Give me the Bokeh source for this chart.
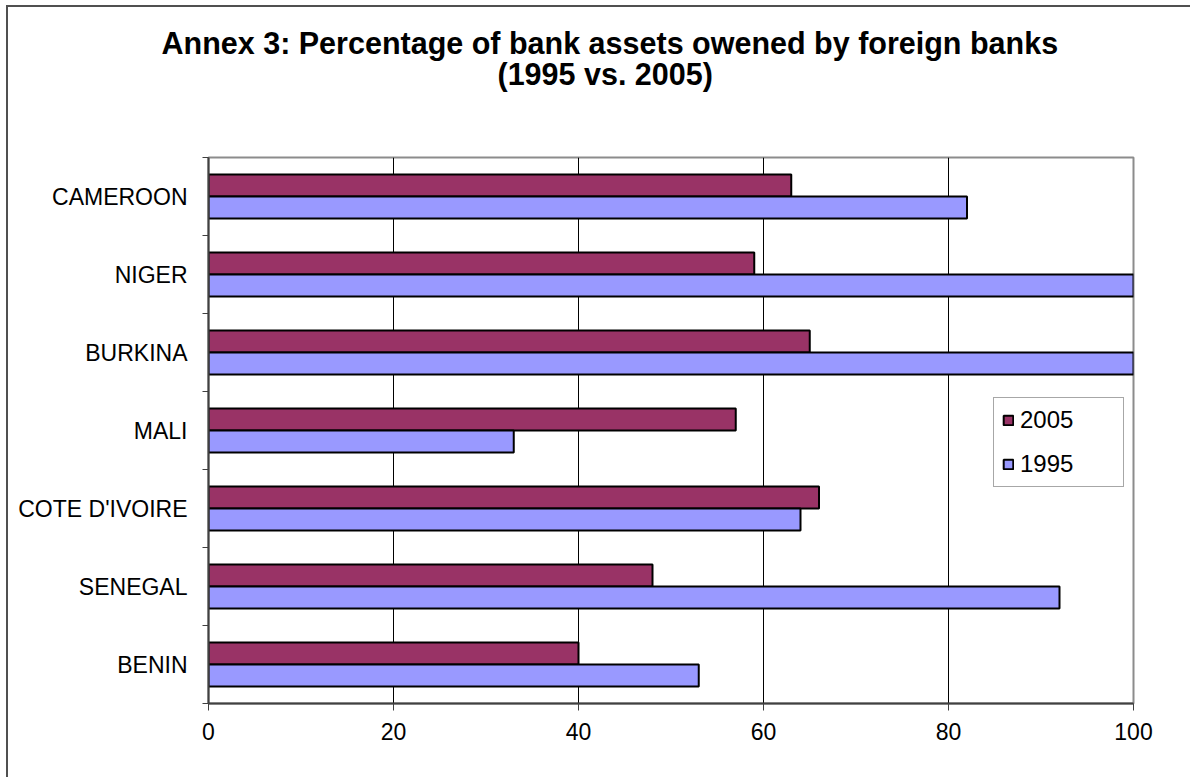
from bokeh.plotting import figure
from bokeh.models import ColumnDataSource, FixedTicker, Legend, LegendItem, Title
from bokeh.transform import dodge
from bokeh.embed import file_html
from bokeh.resources import INLINE

countries = ["BENIN", "SENEGAL", "COTE D'IVOIRE", "MALI", "BURKINA", "NIGER", "CAMEROON"]
v2005 = [40, 48, 66, 57, 65, 59, 63]
v1995 = [53, 92, 64, 33, 100, 100, 82]
x_ticks = [0, 20, 40, 60, 80, 100]
series_names = ["2005", "1995"]
title_lines = ["Annex 3: Percentage of bank assets owened by foreign banks", "(1995 vs. 2005)"]

FONT = "Liberation Sans"
C2005 = "#993366"
C1995 = "#9999FF"

centers = [i + 0.5 for i in range(len(countries))]
src = ColumnDataSource(dict(y=centers, v2005=v2005, v1995=v1995))

p = figure(frame_width=925, frame_height=546, x_range=(0, 100), y_range=(0, len(countries)),
           output_backend="svg", toolbar_location=None,
           min_border_left=200, min_border_right=57, min_border_top=150, min_border_bottom=74)
p.styles = {"border-left": "2px solid #505050", "border-top": "2px solid #505050",
            "margin-left": "6px", "margin-top": "5px"}
p.background_fill_color = "white"
p.border_fill_color = "white"
p.outline_line_color = "#8c8c8c"
p.outline_line_width = 2

r05 = p.hbar(y=dodge("y", 0.141), right="v2005", left=0, height=0.282, source=src,
             fill_color=C2005, line_color="black", line_width=2)
r95 = p.hbar(y=dodge("y", -0.141), right="v1995", left=0, height=0.282, source=src,
             fill_color=C1995, line_color="black", line_width=2)

# x axis
p.xaxis.ticker = FixedTicker(ticks=x_ticks)
p.xaxis.axis_line_color = "#404040"
p.xaxis.axis_line_width = 2
p.xaxis.major_tick_line_color = "#404040"
p.xaxis.major_tick_line_width = 1
p.xaxis.major_tick_out = 7
p.xaxis.major_tick_in = 0
p.xaxis.minor_tick_line_color = None
p.xaxis.major_label_text_font = FONT
p.xaxis.major_label_text_font_size = "23px"
p.xaxis.major_label_text_color = "black"
p.xaxis.major_label_standoff = 12

# y axis
p.yaxis.ticker = FixedTicker(ticks=centers, minor_ticks=list(range(len(countries) + 1)))
p.yaxis.major_label_overrides = {c: n for c, n in zip(centers, countries)}
p.yaxis.axis_line_color = "#404040"
p.yaxis.axis_line_width = 2
p.yaxis.major_tick_line_color = None
p.yaxis.major_tick_out = 0
p.yaxis.major_tick_in = 0
p.yaxis.minor_tick_line_color = "#404040"
p.yaxis.minor_tick_out = 6
p.yaxis.minor_tick_in = 0
p.yaxis.major_label_text_font = FONT
p.yaxis.major_label_text_font_size = "23px"
p.yaxis.major_label_text_color = "black"
p.yaxis.major_label_standoff = 15

p.xgrid.ticker = FixedTicker(ticks=x_ticks[1:-1])
p.xgrid.grid_line_color = "black"
p.xgrid.grid_line_width = 1
p.ygrid.grid_line_color = None

legend = Legend(items=[LegendItem(label=series_names[0], renderers=[r05]),
                       LegendItem(label=series_names[1], renderers=[r95])],
                location=(785, 216), padding=8, spacing=16,
                glyph_width=12, glyph_height=12, label_standoff=6, label_width=95,
                label_text_font=FONT, label_text_font_size="24px", label_height=28,
                label_text_color="black",
                border_line_color="#505050", border_line_width=1,
                background_fill_color="white", background_fill_alpha=1)
p.add_layout(legend, "center")

spacer = Title(text=" ", text_font_size="1px", standoff=64)
t2 = Title(text=title_lines[1], align="left", offset=289, standoff=0, text_font=FONT,
           text_font_size="30.5px", text_font_style="bold", text_color="black")
t1 = Title(text=title_lines[0], align="left", offset=-47, standoff=-10, text_font=FONT,
           text_font_size="30.5px", text_font_style="bold", text_color="black")
p.add_layout(spacer, "above")
p.add_layout(t2, "above")
p.add_layout(t1, "above")

open("out.html", "w").write(file_html(p, INLINE))
